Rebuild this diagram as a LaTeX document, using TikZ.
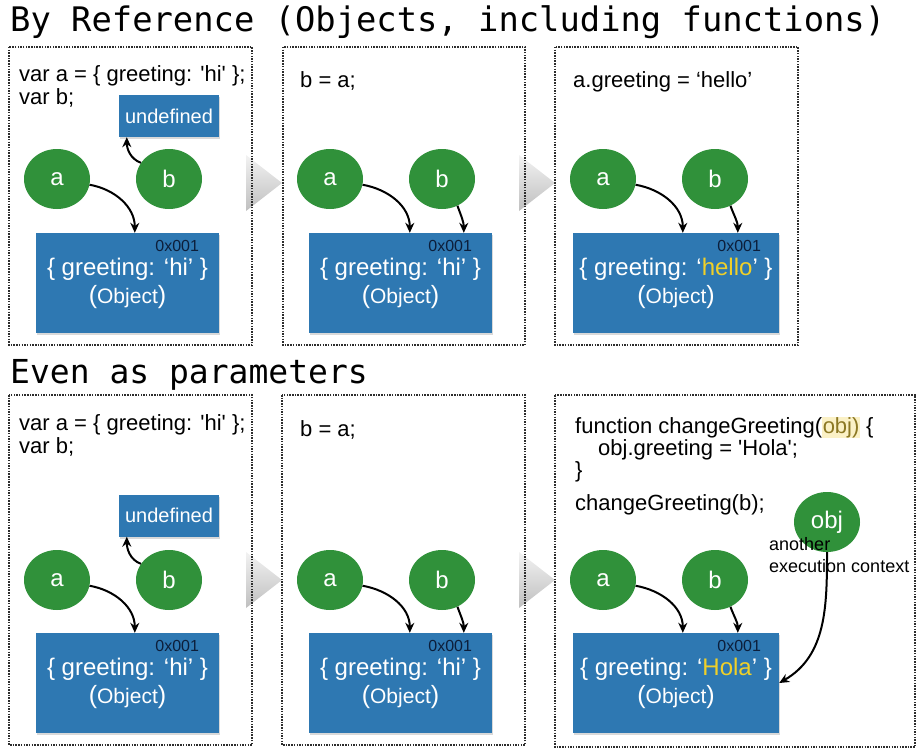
\documentclass[tikz,border=0pt]{standalone}
\usepackage{fontspec}
\setmainfont{Liberation Sans}
\setmonofont{DejaVu Sans Mono}
\usepackage{tikz}
\usetikzlibrary{shapes}
\usetikzlibrary{shapes.geometric}
\usetikzlibrary{calc}
\usetikzlibrary{positioning}
\usetikzlibrary{shadows}
\usetikzlibrary{arrows.meta}
\definecolor{vargreen}{RGB}{48,145,58}
\definecolor{objblue}{RGB}{46,120,178}
\definecolor{newval}{RGB}{240,208,40}
\definecolor{addrnavy}{RGB}{12,30,58}
\definecolor{hilite}{RGB}{251,241,198}
\definecolor{paramcol}{RGB}{140,120,36}
\definecolor{framegray}{RGB}{45,45,45}
\newcommand{\pxfont}[2]{\fontsize{#1}{#2}\selectfont}
\newcommand{\sq}{\textquotesingle}
\newcommand{\objtag}{{\pxfont{21}{24}{\pxfont{25}{24}(}Object{\pxfont{25}{24})}}}

\begin{document}
\begin{tikzpicture}[x=1pt, y=1pt,
  varnode/.style={ellipse, fill=vargreen, text=white, minimum width=66pt, minimum height=60pt, inner sep=0pt, font=\pxfont{24}{28}},
  objbox/.style={rectangle, fill=objblue, text=white, minimum width=183pt, minimum height=100pt, align=center, inner sep=0pt, font=\pxfont{24}{28}, drop shadow={opacity=.3, shadow xshift=1pt, shadow yshift=-2pt}},
  undefbox/.style={rectangle, fill=objblue, text=white, minimum width=100pt, minimum height=42pt, inner sep=0pt, font=\pxfont{20}{24}, drop shadow={opacity=.3, shadow xshift=1pt, shadow yshift=-2pt}},
  addr/.style={text=addrnavy, font=\pxfont{16}{18}, inner sep=0pt, anchor=north east},
  codetext/.style={anchor=base west, align=left, inner sep=0pt, font=\pxfont{22}{23}},
  refarrow/.style={-{Stealth[length=10pt,width=9pt]}, line width=2pt},
  panel/.style={draw=framegray, line width=1.5pt, dash pattern=on 1.5pt off 1.2pt},
  heading/.style={anchor=base west, inner sep=0pt, font=\ttfamily\pxfont{33.8}{36}}]
\useasboundingbox (0,0) rectangle (920,-752);
\foreach \tx/\ty in {246/183, 519/183, 246/580, 519/580}
  \shade[top color=black!5, bottom color=black!25] (\tx,-\ty+28) -- (\tx+36,-\ty) -- (\tx,-\ty-28) -- cycle;
\draw[panel] (9,-47) rectangle (252,-345);
\draw[panel] (283,-47) rectangle (525,-345);
\draw[panel] (555,-47) rectangle (798,-345);
\draw[panel] (9,-395) rectangle (252,-745);
\draw[panel] (282,-395) rectangle (525,-745);
\draw[panel] (555,-395) rectangle (915,-747);

\node[heading] (H1) at (10,-32) {By Reference (Objects, including functions)};
\node[heading, font=\ttfamily\pxfont{33}{36}] (H2) at (10,-383) {Even as parameters};

% top row
\node[codetext] (T1code) at (19,-104) {var a = \{ greeting: \sq hi\sq{} \};\\var b;};
\node[undefbox] (T1undef) at (169,-116) {undefined};
\node[varnode] (T1a) at (57,-179) {a};
\node[varnode] (T1b) at (169,-179) {b};
\node[objbox] (T1obj) at (127.5,-283) {\{ greeting: ‘hi’ \}\\\objtag};
\node[addr, below left=7pt and 20pt of T1obj.north east] (T1addr) {0x001};
\draw[refarrow] (T1b.150) to[out=160,in=-90] ([xshift=8pt]T1undef.south west);
\draw[refarrow] (T1a.-10) to[out=-10,in=90] ([xshift=99pt]T1obj.north west);

\node[codetext] (T2code) at (300,-87) {b = a;};
\node[varnode] (T2a) at (330,-179) {a};
\node[varnode] (T2b) at (442,-179) {b};
\node[objbox] (T2obj) at (400.5,-283) {\{ greeting: ‘hi’ \}\\\objtag};
\node[addr, below left=7pt and 20pt of T2obj.north east] (T2addr) {0x001};
\draw[refarrow] (T2a.-10) to[out=-10,in=90] ([xshift=101pt]T2obj.north west);
\draw[refarrow] (T2b.-60) to[out=-70,in=90] ([xshift=155pt]T2obj.north west);

\node[codetext] (T3code) at (573,-87) {a.greeting = ‘hello’};
\node[varnode] (T3a) at (603,-179) {a};
\node[varnode] (T3b) at (715,-179) {b};
\node[objbox, minimum width=206pt] (T3obj) at (676,-283) {\{ greeting: ‘\textcolor{newval}{hello}’ \}\\\objtag};
\node[addr, below left=7pt and 18pt of T3obj.north east] (T3addr) {0x001};
\draw[refarrow] (T3a.-10) to[out=-10,in=90] ([xshift=110pt]T3obj.north west);
\draw[refarrow] (T3b.-60) to[out=-70,in=90] ([xshift=165pt]T3obj.north west);

% bottom row
\node[codetext] (B1code) at (19,-453) {var a = \{ greeting: \sq hi\sq{} \};\\var b;};
\node[undefbox] (B1undef) at (169,-515.5) {undefined};
\node[varnode] (B1a) at (57,-580) {a};
\node[varnode] (B1b) at (169,-580) {b};
\node[objbox] (B1obj) at (127.5,-683) {\{ greeting: ‘hi’ \}\\\objtag};
\node[addr, below left=7pt and 20pt of B1obj.north east] (B1addr) {0x001};
\draw[refarrow] (B1b.150) to[out=160,in=-90] ([xshift=8pt]B1undef.south west);
\draw[refarrow] (B1a.-10) to[out=-10,in=90] ([xshift=99pt]B1obj.north west);

\node[codetext] (B2code) at (300,-436) {b = a;};
\node[varnode] (B2a) at (330,-580) {a};
\node[varnode] (B2b) at (442,-580) {b};
\node[objbox] (B2obj) at (400.5,-683) {\{ greeting: ‘hi’ \}\\\objtag};
\node[addr, below left=7pt and 20pt of B2obj.north east] (B2addr) {0x001};
\draw[refarrow] (B2a.-10) to[out=-10,in=90] ([xshift=101pt]B2obj.north west);
\draw[refarrow] (B2b.-60) to[out=-70,in=90] ([xshift=155pt]B2obj.north west);

\node[codetext, font=\pxfont{22}{22}] (B3code) at (575,-510) {function changeGreeting({\setlength{\fboxsep}{0.5pt}\colorbox{hilite}{\textcolor{paramcol}{obj)}}} \{\\\hspace*{23pt}obj.greeting = \sq Hola\sq;\\\}\\[11pt]changeGreeting(b);};
\node[varnode] (B3a) at (603,-580) {a};
\node[varnode] (B3b) at (715,-580) {b};
\node[varnode] (B3obj) at (827,-522) {obj};
\node[codetext, font=\pxfont{18}{22}] (B3ctx) at (769,-572) {another\\execution context};
\node[objbox, minimum width=206pt] (B3box) at (676,-683) {\{ greeting: ‘\textcolor{newval}{Hola}’ \}\\\objtag};
\node[addr, below left=7pt and 18pt of B3box.north east] (B3addr) {0x001};
\draw[refarrow] (B3a.-10) to[out=-10,in=90] ([xshift=110pt]B3box.north west);
\draw[refarrow] (B3b.-60) to[out=-70,in=90] ([xshift=165pt]B3box.north west);
\draw[refarrow] (B3obj.south) to[out=-90,in=30] (B3box.east);
\end{tikzpicture}
\end{document}
